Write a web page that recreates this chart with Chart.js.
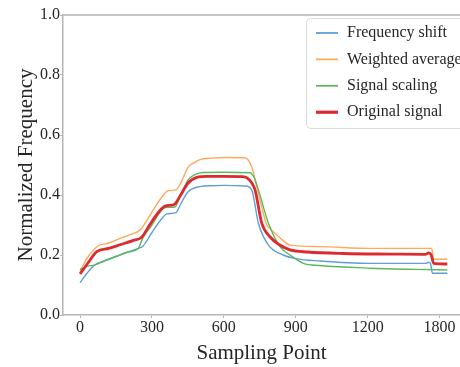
<!DOCTYPE html>
<html>
<head>
<meta charset="utf-8">
<script src="https://cdn.jsdelivr.net/npm/chart.js@4/dist/chart.umd.min.js"></script>
<style>
    html, body { margin: 0; padding: 0; background: #fff; overflow: hidden; }
</style>
</head>
<body>
<canvas id="freqChart" width="460" height="367"></canvas>
<script>
// series values (x in axis position units)
const shiftX = [0, 30, 62, 100, 150, 200, 243, 263, 300, 340, 362, 400, 420, 451, 500, 550, 600, 690, 716, 744, 786, 848, 900, 1000, 1210, 1440, 1455, 1462, 1470, 1532];
const shiftY = [0.108, 0.140, 0.167, 0.180, 0.195, 0.210, 0.222, 0.230, 0.275, 0.320, 0.337, 0.341, 0.370, 0.411, 0.428, 0.431, 0.432, 0.430, 0.417, 0.306, 0.233, 0.200, 0.188, 0.180, 0.172, 0.172, 0.176, 0.172, 0.139, 0.139];

const weightedX = [0, 30, 75, 120, 170, 210, 250, 290, 330, 367, 400, 420, 452, 473, 500, 550, 600, 688, 716, 751, 779, 790, 830, 876, 1000, 1210, 1460, 1467, 1475, 1532];
const weightedY = [0.145, 0.190, 0.230, 0.240, 0.256, 0.268, 0.283, 0.330, 0.380, 0.414, 0.417, 0.440, 0.494, 0.506, 0.518, 0.523, 0.525, 0.524, 0.494, 0.383, 0.300, 0.290, 0.260, 0.233, 0.228, 0.222, 0.222, 0.222, 0.186, 0.186];

const scalingX = [0, 30, 62, 100, 150, 200, 243, 262, 300, 355, 396, 420, 451, 480, 514, 600, 709, 725, 744, 786, 834, 876, 932, 1000, 1210, 1400, 1532];
const scalingY = [0.152, 0.162, 0.167, 0.180, 0.195, 0.210, 0.222, 0.257, 0.300, 0.358, 0.360, 0.400, 0.450, 0.468, 0.475, 0.476, 0.474, 0.460, 0.417, 0.306, 0.228, 0.200, 0.172, 0.165, 0.156, 0.152, 0.150];

const originalX = [0, 30, 70, 120, 170, 220, 257, 290, 330, 355, 380, 396, 420, 451, 487, 530, 600, 680, 700, 730, 758, 793, 830, 876, 950, 1100, 1300, 1440, 1455, 1465, 1475, 1532];
const originalY = [0.137, 0.170, 0.211, 0.222, 0.235, 0.248, 0.259, 0.300, 0.345, 0.363, 0.366, 0.370, 0.400, 0.440, 0.459, 0.462, 0.462, 0.461, 0.455, 0.417, 0.306, 0.260, 0.235, 0.217, 0.210, 0.205, 0.203, 0.202, 0.207, 0.200, 0.172, 0.170];

// tick labels (the source axis skips 1500)
const xTickValues = [0, 300, 600, 900, 1200, 1500];
const xTickLabels = ['0', '300', '600', '900', '1200', '1800'];
const yTickValues = [0, 0.2, 0.4, 0.6, 0.8, 1.0];

const seriesNames = ['Frequency shift', 'Weighted average', 'Signal scaling', 'Original signal'];
const seriesColors = ['#5f9fd6', '#ffaa5a', '#5cb85c', '#dc2a2e'];
const seriesWidths = [1.4, 1.4, 1.4, 2.8];

const toPoints = (xs, ys) => xs.map((x, i) => ({ x: x, y: ys[i] }));
const allPoints = [
    toPoints(shiftX, shiftY),
    toPoints(weightedX, weightedY),
    toPoints(scalingX, scalingY),
    toPoints(originalX, originalY)
];

const serif = "'Liberation Serif', 'Times New Roman', serif";
const axisGray = '#b5b5b5';

// top frame line + legend box inside the plot
const framePlugin = {
    id: 'frameAndLegend',
    afterDraw(chart) {
        const ctx = chart.ctx;
        const area = chart.chartArea;
        ctx.save();
        ctx.strokeStyle = axisGray;
        ctx.lineWidth = 1.5;
        ctx.beginPath();
        ctx.moveTo(area.left, area.top);
        ctx.lineTo(area.right, area.top);
        ctx.stroke();

        // legend
        ctx.fillStyle = 'rgba(255,255,255,0.9)';
        ctx.strokeStyle = '#dcdcdc';
        ctx.lineWidth = 1;
        ctx.beginPath();
        ctx.roundRect(306.5, 18.5, 200, 110, 4);
        ctx.fill();
        ctx.stroke();

        ctx.font = '16px ' + serif;
        ctx.textBaseline = 'middle';
        ctx.textAlign = 'left';
        seriesNames.forEach((name, i) => {
            const y = 33 + i * 26.4;
            ctx.strokeStyle = seriesColors[i];
            ctx.lineWidth = seriesWidths[i] + 0.4;
            ctx.beginPath();
            ctx.moveTo(316, y);
            ctx.lineTo(338, y);
            ctx.stroke();
            ctx.fillStyle = '#262626';
            ctx.fillText(name, 347, y);
        });
        ctx.restore();
    }
};

const ctx = document.getElementById('freqChart');

const freqChart = new Chart(ctx, {
    type: 'line',
    data: {
        datasets: allPoints.map((pts, i) => ({
            label: seriesNames[i],
            data: pts,
            borderColor: seriesColors[i],
            borderWidth: seriesWidths[i],
            pointRadius: 0,
            fill: false,
            cubicInterpolationMode: 'monotone',
            order: 4 - i            // red on top
        }))
    },
    options: {
        responsive: false,
        animation: false,
        layout: { padding: { top: 15, right: 0, bottom: 0, left: 0 } },
        plugins: {
            legend: { display: false },
            tooltip: { enabled: false }
        },
        scales: {
            x: {
                type: 'linear',
                min: -71,
                max: 1585,
                afterBuildTicks: scale => { scale.ticks = xTickValues.map(v => ({ value: v })); },
                afterFit: scale => { scale.height = 52; },
                grid: { drawOnChartArea: false, tickLength: 3, tickColor: axisGray },
                border: { color: axisGray, width: 1.5 },
                ticks: {
                    padding: 0,
                    color: '#262626',
                    font: { family: serif, size: 16 },
                    maxRotation: 0,
                    autoSkip: false,
                    callback: (value, index) => xTickLabels[index]
                },
                title: {
                    display: true,
                    text: 'Sampling Point',
                    color: '#262626',
                    font: { family: serif, size: 21 },
                    padding: { top: 0, bottom: 1 }
                }
            },
            y: {
                min: 0,
                max: 1.0,
                afterBuildTicks: scale => { scale.ticks = yTickValues.map(v => ({ value: v })); },
                afterFit: scale => { scale.width = 63; },
                grid: { drawOnChartArea: false, tickLength: 3, tickColor: axisGray },
                border: { color: axisGray, width: 1.5 },
                ticks: {
                    padding: 0,
                    color: '#262626',
                    font: { family: serif, size: 16 },
                    callback: value => value.toFixed(1)
                },
                title: {
                    display: true,
                    text: 'Normalized Frequency',
                    color: '#262626',
                    font: { family: serif, size: 21 },
                    padding: { top: 14, bottom: 0 }
                }
            }
        }
    },
    plugins: [framePlugin]
});
</script>
</body>
</html>
